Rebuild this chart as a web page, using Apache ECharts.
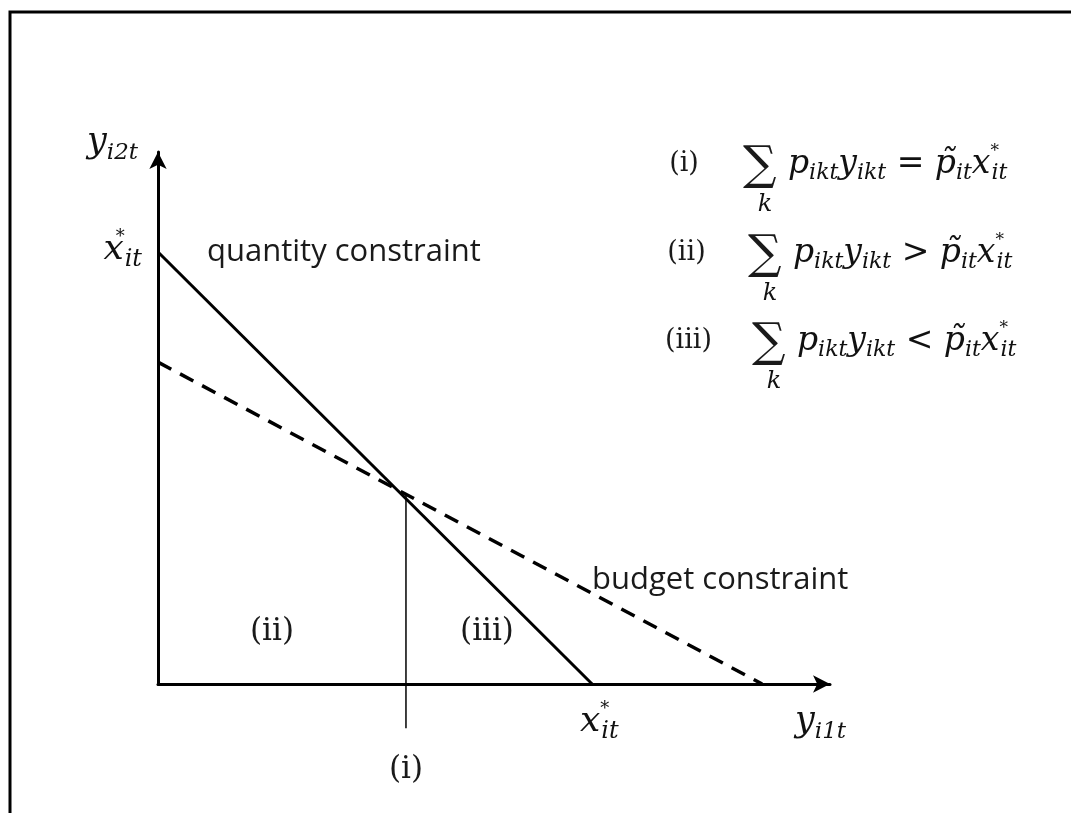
<!DOCTYPE html>
<html>
<head>
<meta charset="utf-8">
<script src="https://cdn.jsdelivr.net/npm/echarts@6/dist/echarts.min.js"></script>
<style>
  html, body { margin: 0; padding: 0; background: #fff; }
  #box { width: 1071px; height: 813px; }
</style>
</head>
<body>
<div id="box"></div>
<script>
  // lines (axis units 0..100)
  const quantityLine = [[0, 81.2], [64.6, 0]];
  const budgetLine = [[0, 60.5], [89.9, 0]];
  const equalLine = [[36.9, 35.5], [36.9, -8.3]];

  const serif = '"DejaVu Serif"';
  const sans = '"Open Sans"';

  // rich styles for math text
  const mathRich = (size) => ({
    v: { fontFamily: serif, fontStyle: 'italic', fontSize: size, lineHeight: size + 8, verticalAlign: 'middle', color: '#111' },
    r: { fontFamily: serif, fontSize: size, lineHeight: size + 8, verticalAlign: 'middle', color: '#111' },
    s: { fontFamily: serif, fontStyle: 'italic', fontSize: Math.round(size * 0.66), lineHeight: Math.round(size * 0.66), verticalAlign: 'bottom', color: '#111' },
    u: { fontFamily: serif, fontSize: Math.round(size * 0.5), lineHeight: Math.round(size * 0.5), verticalAlign: 'top', width: 1, color: '#111' },
  });

  const xStar = '{v|x}{u|*}{s|it}';

  function txt(x, y, text, size, align) {
    return {
      type: 'text', x: x, y: y, silent: true,
      style: {
        text: text, rich: mathRich(size),
        align: align || 'left', verticalAlign: 'middle',
        fontFamily: serif, fontSize: size, fill: '#111',
      },
    };
  }

  function plain(x, y, text, size, family, align) {
    return {
      type: 'text', x: x, y: y, silent: true,
      style: { text: text, fontFamily: family, fontSize: size, fill: '#1a1a1a', align: align || 'left', verticalAlign: 'middle' },
    };
  }

  const formulaRows = [
    { label: '(i)', op: '=', y: 164, dx: 0 },
    { label: '(ii)', op: '>', y: 253, dx: 5 },
    { label: '(iii)', op: '<', y: 341, dx: 9 },
  ];

  const graphics = [
    {
      type: 'rect', silent: true,
      shape: { x: 10, y: 12, width: 1200, height: 900 },
      style: { fill: 'none', stroke: '#000', lineWidth: 3 },
    },
    txt(87, 143, '{v|y}{s|i2t}', 35),
    txt(142, 250, xStar, 36, 'right'),
    txt(580, 722, xStar, 36),
    txt(795, 722, '{v|y}{s|i1t}', 35),
    plain(406, 770, '(i)', 31, serif, 'center'),
    plain(272, 632, '(ii)', 31, serif, 'center'),
    plain(487, 632, '(iii)', 31, serif, 'center'),
    plain(207, 252, 'quantity constraint', 31, sans),
    plain(592, 580, 'budget constraint', 31, sans),
  ];

  formulaRows.forEach((row) => {
    graphics.push(plain(684 + row.dx / 2, row.y, row.label, 27, serif, 'center'));
    graphics.push(plain(743 + row.dx, row.y + 3, '∑', 47, serif));
    graphics.push(txt(765 + row.dx, row.y + 41, '{v|k}', 24, 'center'));
    graphics.push(txt(788 + row.dx, row.y,
      '{v|p}{s|ikt}{v|y}{s|ikt}{r| ' + row.op + ' }{v|p̃}{s|it}' + xStar, 33));
  });

  const chart = echarts.init(document.getElementById('box'), null, { renderer: 'canvas' });
  chart.setOption({
    animation: false,
    backgroundColor: '#fff',
    grid: { left: 158, right: 241, top: 152, bottom: 129, containLabel: false },
    xAxis: {
      type: 'value', min: 0, max: 100,
      axisLine: { show: true, onZero: false, symbol: ['none', 'arrow'], symbolSize: [13, 17], symbolOffset: [0, 0], lineStyle: { color: '#000', width: 3 } },
      axisTick: { show: false }, axisLabel: { show: false }, splitLine: { show: false },
    },
    yAxis: {
      type: 'value', min: 0, max: 100,
      axisLine: { show: true, onZero: false, symbol: ['none', 'arrow'], symbolSize: [13, 17], symbolOffset: [0, 0], lineStyle: { color: '#000', width: 3 } },
      axisTick: { show: false }, axisLabel: { show: false }, splitLine: { show: false },
    },
    series: [
      {
        name: 'quantity constraint', type: 'line', data: quantityLine,
        showSymbol: false, clip: false, silent: true,
        lineStyle: { color: '#000', width: 3 },
      },
      {
        name: 'budget constraint', type: 'line', data: budgetLine,
        showSymbol: false, clip: false, silent: true,
        lineStyle: { color: '#000', width: 3.5, type: [15, 10] },
      },
      {
        name: '(i)', type: 'line', data: equalLine,
        showSymbol: false, clip: false, silent: true,
        lineStyle: { color: '#000', width: 1.5 },
      },
    ],
    graphic: graphics,
  });
</script>
</body>
</html>
